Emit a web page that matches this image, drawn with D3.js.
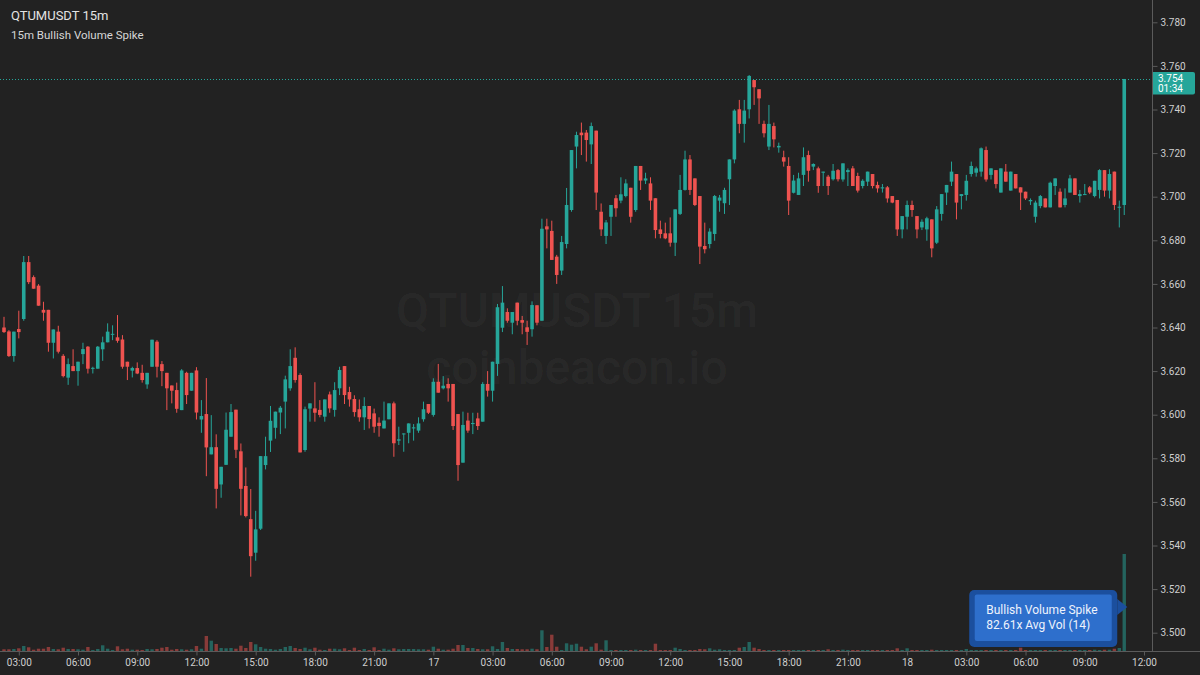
<!DOCTYPE html>
<html>
<head>
<meta charset="utf-8">
<script src="https://cdn.jsdelivr.net/npm/d3@7"></script>
<style>
  html, body { margin: 0; padding: 0; background: #222222; }
  svg { display: block; font-family: Roboto, "Noto Sans", sans-serif; }
</style>
</head>
<body>
<svg id="chart" width="1200" height="675"></svg>
<script>
// QTUMUSDT 15m candles
const opens = [
  3.6400,3.6382,3.6269,3.6393,3.6439,3.6700,3.6631,3.6592,3.6481,3.6481,
  3.6330,3.6381,3.6270,3.6170,3.6223,3.6200,3.6278,3.6312,3.6211,3.6211,
  3.6300,3.6332,3.6367,3.6355,3.6345,3.6243,3.6202,3.6214,3.6192,3.6139,
  3.6220,3.6335,3.6232,3.6192,3.6134,3.6113,3.6021,3.6192,3.6110,3.6203,
  3.5978,3.6003,3.5818,3.5851,3.5680,3.5770,3.5899,3.6023,3.5832,3.5673,
  3.5521,3.5367,3.5477,3.5769,3.5881,3.5940,3.6010,3.6060,3.6121,3.6261,
  3.6182,3.5838,3.6028,3.6029,3.6022,3.5991,3.6093,3.6022,3.6121,3.6223,
  3.6104,3.6072,3.6025,3.5988,3.6040,3.6006,3.5963,3.5937,3.5979,3.6052,
  3.5881,3.5911,3.5917,3.5937,3.5927,3.5979,3.6049,3.5999,3.6151,3.6121,
  3.6141,3.6141,3.6003,3.5780,3.5973,3.5957,3.5983,3.5968,3.6141,3.6110,
  3.6233,3.6399,3.6471,3.6422,3.6514,3.6434,3.6401,3.6392,3.6502,3.6431,
  3.6864,3.6843,3.6725,3.6661,3.6783,3.6939,3.7230,3.7294,3.7294,3.7240,
  3.7303,3.6931,3.6820,3.6908,3.6993,3.6982,3.7003,3.7041,3.6939,3.7141,
  3.7074,3.7061,3.6993,3.6850,3.6832,3.6832,3.6789,3.6921,3.7031,3.7171,
  3.7084,3.7003,3.6774,3.6783,3.6829,3.6982,3.6970,3.7080,3.7171,3.7401,
  3.7334,3.7401,3.7535,3.7493,3.7334,3.7230,3.7324,3.7226,3.7181,3.7141,
  3.7018,3.7008,3.7100,3.7191,3.7138,3.7130,3.7110,3.7092,3.7080,3.7122,
  3.7079,3.7113,3.7130,3.7095,3.7049,3.7069,3.7104,3.7054,3.7038,3.7043,
  3.7003,3.6985,3.6850,3.6908,3.6962,3.6911,3.6859,3.6850,3.6896,3.6789,
  3.6921,3.7019,3.7069,3.7104,3.7003,3.7008,3.7104,3.7110,3.7115,3.7214,
  3.7100,3.7122,3.7019,3.7115,3.7028,3.7104,3.7043,3.7023,3.6979,3.6908,
  3.6957,3.6992,3.6951,3.7049,3.7023,3.6962,3.7019,3.7084,3.7003,3.7009,
  3.7043,3.7003,3.7031,3.7122,3.7028,3.7115,3.6950,3.6962
];
const highs = [
  3.6449,3.6388,3.6381,3.6477,3.6728,3.6728,3.6639,3.6599,3.6518,3.6481,
  3.6391,3.6408,3.6278,3.6258,3.6300,3.6243,3.6330,3.6315,3.6220,3.6315,
  3.6358,3.6419,3.6410,3.6457,3.6365,3.6243,3.6220,3.6240,3.6229,3.6192,
  3.6344,3.6342,3.6246,3.6192,3.6134,3.6147,3.6209,3.6197,3.6192,3.6218,
  3.6067,3.6168,3.5998,3.5910,3.5761,3.6010,3.6049,3.6023,3.5868,3.5758,
  3.5659,3.5559,3.5810,3.5899,3.6040,3.6014,3.6040,3.6179,3.6300,3.6309,
  3.6190,3.6037,3.6052,3.6149,3.6067,3.6070,3.6106,3.6149,3.6220,3.6223,
  3.6128,3.6089,3.6070,3.6080,3.6040,3.6028,3.5988,3.6060,3.6052,3.6060,
  3.5945,3.5914,3.5960,3.5957,3.5988,3.6060,3.6049,3.6167,3.6233,3.6177,
  3.6167,3.6141,3.6003,3.6014,3.6009,3.6009,3.6009,3.6149,3.6200,3.6243,
  3.6508,3.6590,3.6488,3.6471,3.6514,3.6453,3.6431,3.6520,3.6502,3.6899,
  3.6899,3.6890,3.6733,3.6820,3.7040,3.7214,3.7298,3.7340,3.7306,3.7340,
  3.7303,3.6969,3.6893,3.6962,3.7008,3.7089,3.7080,3.7041,3.7141,3.7141,
  3.7110,3.7089,3.6993,3.6890,3.6881,3.6905,3.6942,3.7100,3.7211,3.7191,
  3.7084,3.7003,3.6881,3.6855,3.7008,3.7008,3.7041,3.7171,3.7401,3.7444,
  3.7444,3.7558,3.7535,3.7493,3.7349,3.7421,3.7340,3.7248,3.7211,3.7181,
  3.7100,3.7110,3.7226,3.7211,3.7153,3.7138,3.7115,3.7100,3.7150,3.7127,
  3.7153,3.7130,3.7141,3.7110,3.7080,3.7115,3.7104,3.7069,3.7058,3.7049,
  3.7003,3.6985,3.6911,3.6982,3.6982,3.6911,3.6896,3.6908,3.6896,3.6957,
  3.7012,3.7054,3.7161,3.7104,3.7012,3.7100,3.7161,3.7138,3.7226,3.7230,
  3.7130,3.7122,3.7130,3.7150,3.7115,3.7104,3.7043,3.7023,3.6992,3.6982,
  3.7008,3.6992,3.7069,3.7084,3.7038,3.7038,3.7100,3.7084,3.7031,3.7058,
  3.7049,3.7073,3.7126,3.7122,3.7126,3.7115,3.6982,3.7540
];
const lows = [
  3.6375,3.6265,3.6243,3.6350,3.6431,3.6599,3.6578,3.6500,3.6431,3.6289,
  3.6258,3.6281,3.6171,3.6137,3.6200,3.6133,3.6232,3.6189,3.6189,3.6211,
  3.6247,3.6332,3.6342,3.6330,3.6211,3.6159,3.6171,3.6186,3.6147,3.6119,
  3.6220,3.6171,3.6131,3.6021,3.6052,3.6009,3.6021,3.6049,3.6110,3.5978,
  3.5917,3.5718,3.5818,3.5570,3.5619,3.5770,3.5899,3.5801,3.5538,3.5529,
  3.5257,3.5330,3.5471,3.5749,3.5829,3.5890,3.5911,3.5937,3.6110,3.6147,
  3.5827,3.5830,3.5968,3.5968,3.5988,3.5968,3.6009,3.5991,3.6090,3.6049,
  3.6037,3.5991,3.5968,3.5930,3.5937,3.5917,3.5899,3.5937,3.5979,3.5807,
  3.5861,3.5830,3.5869,3.5881,3.5917,3.5968,3.6003,3.5991,3.6101,3.6116,
  3.6060,3.5930,3.5697,3.5780,3.5917,3.5911,3.5930,3.5968,3.6083,3.6060,
  3.6178,3.6379,3.6422,3.6369,3.6410,3.6369,3.6320,3.6358,3.6410,3.6431,
  3.6763,3.6710,3.6600,3.6641,3.6763,3.6931,3.7130,3.7191,3.7161,3.7150,
  3.6939,3.6820,3.6783,3.6820,3.6908,3.6970,3.6997,3.6881,3.6931,3.7031,
  3.7058,3.6939,3.6809,3.6809,3.6805,3.6771,3.6728,3.6916,3.7028,3.7008,
  3.6957,3.6691,3.6740,3.6763,3.6798,3.6931,3.6921,3.6962,3.7153,3.7291,
  3.7248,3.7359,3.7421,3.7334,3.7272,3.7214,3.7226,3.7202,3.7138,3.6916,
  3.7015,3.7008,3.7049,3.7069,3.7122,3.7018,3.7049,3.7008,3.7074,3.7070,
  3.7069,3.7049,3.7049,3.7019,3.7038,3.7049,3.7038,3.7019,3.7019,3.6973,
  3.6970,3.6820,3.6809,3.6850,3.6908,3.6809,3.6847,3.6798,3.6722,3.6783,
  3.6890,3.6962,3.7049,3.6896,3.6942,3.6982,3.7092,3.7092,3.7092,3.7069,
  3.7079,3.7038,3.7019,3.7069,3.7028,3.7038,3.6939,3.6985,3.6962,3.6881,
  3.6947,3.6951,3.6951,3.7008,3.6951,3.6951,3.7019,3.7008,3.6973,3.7009,
  3.7012,3.6997,3.6992,3.7000,3.6992,3.6939,3.6859,3.6916
];
const closes = [
  3.6379,3.6269,3.6381,3.6379,3.6700,3.6608,3.6578,3.6500,3.6468,3.6330,
  3.6391,3.6289,3.6177,3.6232,3.6200,3.6243,3.6301,3.6211,3.6215,3.6312,
  3.6332,3.6381,3.6371,3.6339,3.6220,3.6220,3.6214,3.6189,3.6159,3.6192,
  3.6344,3.6220,3.6200,3.6121,3.6110,3.6027,3.6203,3.6090,3.6192,3.6010,
  3.5994,3.5850,3.5851,3.5660,3.5761,3.5931,3.6012,3.5839,3.5660,3.5535,
  3.5351,3.5474,3.5810,3.5810,3.5972,3.6014,3.6032,3.6162,3.6223,3.6159,
  3.5827,3.6025,3.6052,3.6009,3.5999,3.6070,3.6029,3.6113,3.6205,3.6090,
  3.6070,3.6012,3.5988,3.6040,3.5980,3.5945,3.5948,3.5973,3.6052,3.5869,
  3.5887,3.5914,3.5960,3.5942,3.5960,3.6025,3.6009,3.6151,3.6101,3.6133,
  3.6121,3.5948,3.5769,3.5953,3.5927,3.5962,3.5948,3.6141,3.6110,3.6243,
  3.6493,3.6514,3.6431,3.6471,3.6431,3.6422,3.6380,3.6503,3.6422,3.6853,
  3.6850,3.6710,3.6641,3.6792,3.6962,3.7214,3.7283,3.7282,3.7260,3.7324,
  3.7019,3.6850,3.6882,3.6962,3.6947,3.7011,3.7061,3.6908,3.7141,3.7074,
  3.7084,3.6982,3.6847,3.6829,3.6809,3.6789,3.6942,3.7031,3.7171,3.7031,
  3.6962,3.6771,3.6759,3.6840,3.7003,3.6996,3.7031,3.7171,3.7395,3.7334,
  3.7395,3.7554,3.7502,3.7451,3.7291,3.7334,3.7263,3.7233,3.7161,3.6982,
  3.7074,3.7084,3.7181,3.7119,3.7150,3.7049,3.7115,3.7049,3.7119,3.7080,
  3.7153,3.7122,3.7049,3.7028,3.7073,3.7115,3.7049,3.7038,3.7043,3.6992,
  3.6973,3.6850,3.6911,3.6962,3.6939,3.6850,3.6885,3.6901,3.6763,3.6942,
  3.7012,3.7054,3.7115,3.6973,3.7012,3.7073,3.7141,3.7130,3.7222,3.7079,
  3.7130,3.7058,3.7130,3.7069,3.7115,3.7038,3.7019,3.6992,3.6985,3.6973,
  3.7003,3.6951,3.7064,3.7084,3.6951,3.6992,3.7084,3.7008,3.7012,3.7012,
  3.7019,3.7073,3.7122,3.7028,3.7104,3.6962,3.6954,3.7540
];
// volume per bar, thousands
const volumes = [
  1.7,1.7,2.0,2.7,5.0,3.7,1.3,2.3,2.3,4.0,
  2.0,1.7,3.3,2.0,2.0,1.7,1.3,4.0,1.0,2.0,
  5.7,2.3,1.0,4.7,1.7,2.3,1.3,1.3,0.5,2.0,
  1.7,2.0,3.3,4.0,1.3,2.0,1.7,1.3,1.7,5.0,
  2.3,15.0,10.3,7.0,3.0,2.7,3.0,2.3,5.3,3.0,
  9.0,6.7,4.0,2.3,2.0,1.3,2.0,4.0,5.0,3.0,
  2.0,3.3,1.7,3.3,1.3,0.7,2.3,2.3,1.7,2.7,
  0.7,3.3,1.0,2.0,1.0,3.7,1.0,2.3,1.3,2.7,
  1.7,2.0,2.0,2.0,1.7,1.7,1.3,4.3,2.3,1.3,
  1.3,2.3,6.0,6.0,3.0,3.0,2.0,1.7,1.7,4.7,
  2.0,9.0,3.0,2.0,2.0,1.7,1.7,2.3,1.7,20.7,
  4.0,16.3,4.3,1.0,7.7,6.3,7.3,4.3,1.7,4.3,
  7.7,1.3,10.7,0.7,1.0,0.7,0.5,1.0,1.3,0.7,
  0.5,0.7,7.3,1.0,0.7,1.0,3.3,2.0,1.0,0.7,
  0.7,2.0,1.7,2.7,1.3,1.7,0.7,0.7,1.0,3.3,
  4.0,9.0,3.3,2.0,0.7,0.7,0.5,0.3,0.5,0.7,
  0.5,0.7,1.0,0.7,0.5,0.7,1.0,1.7,0.5,0.7,
  1.3,0.5,0.5,0.7,0.5,1.0,0.5,0.5,0.7,0.5,
  0.7,2.7,0.7,2.7,1.0,0.7,0.5,0.7,1.3,0.7,
  0.5,1.0,1.0,1.0,0.5,2.0,0.5,0.5,0.7,1.0,
  0.5,0.5,0.5,0.5,0.5,0.7,3.3,0.5,0.5,0.7,
  0.5,0.5,0.7,0.8,0.8,0.5,1.0,0.5,0.8,0.5,
  1.0,1.3,1.0,1.3,1.3,2.3,3.0,97.0
];
const priceTicks = [3.50,3.52,3.54,3.56,3.58,3.60,3.62,3.64,3.66,3.68,3.70,3.72,3.74,3.76,3.78];
const firstBar = new Date(2025, 0, 16, 2, 15);
const BAR_MS = 15 * 60 * 1000;
const lastPrice = 3.754;
const countdown = "01:34";

const UP = "#26a69a", DOWN = "#ef5350";
const W = 1200, H = 675;
const axisX = 1152.5, axisY = 651.5;

const bars = closes.map((c, i) => ({
  t: new Date(firstBar.getTime() + i * BAR_MS),
  o: opens[i], h: highs[i], l: lows[i], c: c, v: volumes[i]
}));
const last = bars[bars.length - 1];

const svg = d3.select("#chart");
svg.append("rect").attr("width", W).attr("height", H).attr("fill", "#222222");

const x = d3.scaleTime()
  .domain([bars[0].t, last.t])
  .range([4, 4 + (bars.length - 1) * 4.935]);
const y = d3.scaleLinear().domain([3.5, 3.78]).range([632.7, 22.3]);
const yv = d3.scaleLinear().domain([0, d3.max(volumes)]).range([axisY - 0.5, 554]);

// watermark
const wm = svg.append("g").attr("fill", "rgba(255,255,255,0.045)")
  .attr("text-anchor", "middle").style("font-weight", 500).style("font-size", "48px");
wm.append("text").attr("x", 577).attr("y", 327).text("QTUMUSDT 15m");
wm.append("text").attr("x", 577).attr("y", 384).text("coinbeacon.io");

// volume
svg.append("g").selectAll("rect").data(bars).enter().append("rect")
  .attr("x", d => x(d.t) - 1.7)
  .attr("width", 3.4)
  .attr("y", d => Math.min(yv(d.v), axisY - 1.5))
  .attr("height", d => Math.max(1, axisY - 0.5 - yv(d.v)))
  .attr("fill", d => d.c >= d.o ? "rgba(38,166,154,0.5)" : "rgba(239,83,80,0.5)");

// candles
const candle = svg.append("g").selectAll("g").data(bars).enter().append("g");
candle.append("line")
  .attr("x1", d => x(d.t)).attr("x2", d => x(d.t))
  .attr("y1", d => y(d.h)).attr("y2", d => y(d.l))
  .attr("stroke", d => d.c >= d.o ? UP : DOWN)
  .attr("stroke-width", 1);
candle.append("rect")
  .attr("x", d => x(d.t) - 1.8)
  .attr("width", 3.6)
  .attr("y", d => y(Math.max(d.o, d.c)))
  .attr("height", d => Math.max(1, Math.abs(y(d.o) - y(d.c))))
  .attr("fill", d => d.c >= d.o ? UP : DOWN);

// last price line
svg.append("line")
  .attr("x1", 0).attr("x2", axisX)
  .attr("y1", Math.round(y(lastPrice)) + 0.5).attr("y2", Math.round(y(lastPrice)) + 0.5)
  .attr("stroke", UP).attr("stroke-width", 1).attr("stroke-dasharray", "1,2");

// axis lines
svg.append("line").attr("x1", axisX).attr("x2", axisX).attr("y1", 0).attr("y2", axisY)
  .attr("stroke", "#5b5b5b");
svg.append("line").attr("x1", 0).attr("x2", W).attr("y1", axisY).attr("y2", axisY)
  .attr("stroke", "#5b5b5b");

// price axis
const yAxis = svg.append("g").attr("transform", `translate(${axisX},0)`)
  .call(d3.axisRight(y).tickValues(priceTicks).tickFormat(d3.format(".3f")).tickSize(5).tickPadding(3));
yAxis.select(".domain").remove();
yAxis.selectAll(".tick line").attr("stroke", "#5b5b5b");
yAxis.selectAll(".tick text").attr("fill", "#cfcfcf").style("font-size", "10px")
  .style("font-family", "Roboto, sans-serif");

// time axis, every 3 hours up to 12:00 of the last day
const timeTicks = d3.timeHour.every(3).range(bars[0].t, new Date(last.t.getTime() + 5 * BAR_MS));
const xAxis = svg.append("g").attr("transform", `translate(0,${axisY})`)
  .call(d3.axisBottom(x).tickValues(timeTicks).tickSize(4).tickPadding(3)
    .tickFormat(d => d.getHours() === 0 ? d3.timeFormat("%-d")(d) : d3.timeFormat("%H:%M")(d)));
xAxis.select(".domain").remove();
xAxis.selectAll(".tick line").attr("stroke", "#5b5b5b");
xAxis.selectAll(".tick text").attr("fill", "#cfcfcf").style("font-size", "10px")
  .style("font-family", "Roboto, sans-serif");

// last price label
const ly = y(lastPrice);
svg.append("path")
  .attr("d", `M${axisX + 0.5},${ly - 7} h40 a2,2 0 0 1 2,2 v18.6 a2,2 0 0 1 -2,2 h-40 z`)
  .attr("fill", UP);
svg.append("text").attr("x", 1158).attr("y", ly + 3.5).attr("fill", "#ffffff")
  .style("font-size", "10px").text(d3.format(".3f")(lastPrice));
svg.append("text").attr("x", 1158).attr("y", ly + 13.5).attr("fill", "#ffffff")
  .style("font-size", "10px").text(countdown);

// titles
svg.append("text").attr("x", 11).attr("y", 20).attr("fill", "#e3e3e3")
  .style("font-size", "13px").text("QTUMUSDT 15m");
svg.append("text").attr("x", 11).attr("y", 39).attr("fill", "#d6d6d6")
  .style("font-size", "11.5px").text("15m Bullish Volume Spike");

// annotation on the spike bar
const tipX = x(last.t) + 3, tipY = 607;
const boxR = tipX - 10, boxL = boxR - 148, boxT = 590, boxB = 647;
const note = svg.append("g");
note.append("path")
  .attr("d", `M${boxR},${tipY - 8} L${tipX},${tipY} L${boxR},${tipY + 8} Z`)
  .attr("fill", "#1b4f9e");
note.append("rect").attr("x", boxL).attr("y", boxT).attr("width", boxR - boxL).attr("height", boxB - boxT)
  .attr("rx", 5).attr("fill", "#1b4f9e");
note.append("rect").attr("x", boxL + 5.5).attr("y", boxT + 4.5).attr("width", boxR - boxL - 11).attr("height", boxB - boxT - 10.5)
  .attr("rx", 2).attr("fill", "#2e6fcc");
note.append("text").attr("x", boxL + 17).attr("y", 614).attr("fill", "#eef3fc")
  .style("font-size", "12px").text("Bullish Volume Spike");
note.append("text").attr("x", boxL + 17).attr("y", 629).attr("fill", "#eef3fc")
  .style("font-size", "12px").text("82.61x Avg Vol (14)");
</script>
</body>
</html>
